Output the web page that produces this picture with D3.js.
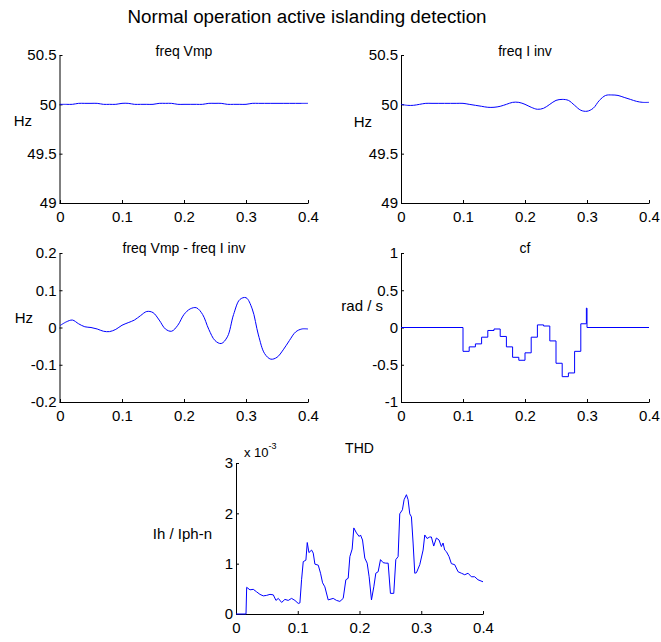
<!DOCTYPE html>
<html>
<head>
<meta charset="utf-8">
<script src="https://cdn.jsdelivr.net/npm/d3@7"></script>
<style>
	body { margin: 0; background: #fff; }
	svg text { font-family: "Liberation Sans", Arial, sans-serif; fill: #000; }
</style>
</head>
<body>
<div id="chart"></div>
<script>
'use strict';

// sample times (s) shared by the three frequency traces
var sampleTimes = [0, 0.01, 0.02, 0.03, 0.04, 0.05, 0.06, 0.07, 0.08, 0.09,
	0.10, 0.11, 0.12, 0.13, 0.14, 0.15, 0.16, 0.17, 0.18, 0.19,
	0.20, 0.21, 0.22, 0.23, 0.24, 0.25, 0.26, 0.27, 0.28, 0.29,
	0.30, 0.31, 0.32, 0.33, 0.34, 0.35, 0.36, 0.37, 0.38, 0.39, 0.40];

var freqVmp = [50.00, 50.00, 50.00, 50.01, 50.01, 50.01, 50.01, 50.00, 50.00, 50.00,
	50.01, 50.01, 50.00, 50.00, 50.00, 50.00, 50.01, 50.01, 50.01, 50.00,
	50.00, 50.00, 50.00, 50.00, 50.01, 50.01, 50.01, 50.00, 50.00, 50.00,
	50.00, 50.01, 50.01, 50.01, 50.01, 50.01, 50.01, 50.01, 50.01, 50.01, 50.01];

var freqIinv = [50.00, 49.99, 49.99, 50.00, 50.01, 50.01, 50.01, 50.01, 50.01, 50.01,
	50.01, 50.00, 49.99, 49.98, 49.97, 49.97, 49.98, 50.00, 50.02, 50.02,
	50.00, 49.97, 49.95, 49.96, 50.00, 50.04, 50.05, 50.04, 49.99, 49.94,
	49.93, 49.96, 50.04, 50.09, 50.095, 50.09, 50.07, 50.05, 50.03, 50.02, 50.02];

var freqDiff = [0.005, 0.015, 0.02, 0.01, 0.002, 0.0, -0.004, -0.01, -0.011, -0.005,
	0.006, 0.013, 0.02, 0.032, 0.043, 0.04, 0.02, -0.004, -0.01, 0.006,
	0.035, 0.05, 0.053, 0.035, -0.005, -0.035, -0.043, -0.025, 0.035, 0.075,
	0.08, 0.05, -0.02, -0.07, -0.085, -0.08, -0.06, -0.035, -0.012, -0.004, -0.004];

// cf is piecewise constant (value holds until the next time)
var cfTimes = [0, 0.10, 0.11, 0.12, 0.13, 0.14, 0.15, 0.16, 0.17, 0.18, 0.19,
	0.20, 0.21, 0.22, 0.23, 0.24, 0.25, 0.26, 0.27, 0.28, 0.29, 0.299, 0.30, 0.40];
var cfValues = [0, -0.32, -0.26, -0.22, -0.13, -0.04, -0.02, -0.12, -0.26, -0.40, -0.44,
	-0.34, -0.13, 0.035, 0.02, -0.18, -0.48, -0.66, -0.61, -0.32, 0.05, 0.26, 0, 0];

// THD in units of 1e-3
var thdTimes = [0, 0.0162, 0.0173, 0.0226, 0.028, 0.0334, 0.0388, 0.0442, 0.0496, 0.055,
	0.0604, 0.0647, 0.0685, 0.0739, 0.0792, 0.0846, 0.09, 0.0954, 0.1008, 0.1035,
	0.1062, 0.1089, 0.1132, 0.1154, 0.1181, 0.1224, 0.1251, 0.1278, 0.1332, 0.1369,
	0.1402, 0.1439, 0.1493, 0.1574, 0.1628, 0.1682, 0.1736, 0.1779, 0.1817, 0.1844,
	0.1881, 0.1908, 0.1951, 0.1995, 0.2016, 0.2049, 0.2086, 0.2124, 0.2156, 0.2194,
	0.2232, 0.2264, 0.2302, 0.234, 0.2383, 0.2426, 0.2464, 0.2501, 0.2555, 0.2588,
	0.2625, 0.2652, 0.2695, 0.2722, 0.276, 0.2787, 0.2814, 0.2841, 0.2868, 0.2895,
	0.2922, 0.2976, 0.303, 0.3057, 0.3094, 0.3137, 0.3164, 0.3202, 0.3245, 0.3288,
	0.3326, 0.3353, 0.338, 0.3407, 0.345, 0.3488, 0.3542, 0.3596, 0.365, 0.3704,
	0.3758, 0.3811, 0.3865, 0.3919, 0.4];
var thdValues = [0, 0, 0.53, 0.48, 0.49, 0.44, 0.39, 0.36, 0.37, 0.39,
	0.38, 0.27, 0.31, 0.23, 0.29, 0.27, 0.31, 0.27, 0.21, 0.22,
	0.68, 1.04, 1.07, 1.42, 1.22, 1.27, 1.21, 0.99, 0.97, 0.81,
	0.62, 0.54, 0.28, 0.31, 0.27, 0.25, 0.31, 0.68, 0.71, 1.14,
	1.29, 1.71, 1.61, 1.54, 1.57, 1.47, 1.11, 1.01, 0.74, 0.28,
	0.54, 0.81, 0.84, 1.08, 1.02, 1.01, 1.01, 0.41, 0.41, 1.08,
	1.14, 1.99, 2.07, 2.27, 2.37, 2.27, 1.99, 1.93, 1.41, 0.81,
	0.82, 0.98, 1.27, 1.57, 1.5, 1.53, 1.53, 1.35, 1.51, 1.47,
	1.34, 1.41, 1.27, 1.24, 1.14, 1.0, 0.98, 0.84, 0.81, 0.78,
	0.81, 0.74, 0.74, 0.68, 0.64];

var xTicks = [0, 0.1, 0.2, 0.3, 0.4];
var freqTicks = [49, 49.5, 50, 50.5];
var diffTicks = [-0.2, -0.1, 0, 0.1, 0.2];
var cfTicks = [-1, -0.5, 0, 0.5, 1];
var thdTicks = [0, 1, 2, 3];

var mainTitle = 'Normal operation active islanding detection';

var W = 661, H = 642;
var LINE = '#0000ff';

var panels = [
	{ title: 'freq Vmp', ylabel: 'Hz', t: sampleTimes, v: freqVmp, dom: [49, 50.5], ticks: freqTicks,
	  left: 60, right: 308, top: 55, bottom: 203, labX: 32, labY: 121, soft: true, titleDy: 1 },
	{ title: 'freq I inv', ylabel: 'Hz', t: sampleTimes, v: freqIinv, dom: [49, 50.5], ticks: freqTicks,
	  left: 401, right: 649, top: 55, bottom: 203, labX: 372, labY: 122, soft: false, titleDy: 1 },
	{ title: 'freq Vmp - freq I inv', ylabel: 'Hz', t: sampleTimes, v: freqDiff, dom: [-0.2, 0.2], ticks: diffTicks,
	  left: 60, right: 308, top: 253, bottom: 402, labX: 33, labY: 318, soft: true, titleDy: 0 },
	{ title: 'cf', ylabel: 'rad / s', t: cfTimes, v: cfValues, dom: [-1, 1], ticks: cfTicks, step: true,
	  left: 401, right: 649, top: 253, bottom: 402, labX: 383, labY: 306, soft: false, titleDy: 0 },
	{ title: 'THD', ylabel: 'Ih / Iph-n', t: thdTimes, v: thdValues, dom: [0, 3], ticks: thdTicks, exponent: true,
	  left: 236, right: 483, top: 463, bottom: 614, labX: 212, labY: 534, soft: false, titleDy: -10 }
];

var svg = d3.select('#chart').append('svg')
	.attr('width', W)
	.attr('height', H);

svg.append('text')
	.attr('x', 307)
	.attr('y', 23)
	.attr('text-anchor', 'middle')
	.style('font-size', '18.8px')
	.text(mainTitle);

function fmt(d){ return String(+d.toFixed(2)); }

panels.forEach(function(p){

	var x = d3.scaleLinear().domain([0, 0.4]).range([p.left, p.right]);
	var y = d3.scaleLinear().domain(p.dom).range([p.bottom, p.top]);

	var g = svg.append('g');

	var xAxis = g.append('g')
		.attr('transform', 'translate(0,' + p.bottom + ')')
		.call(d3.axisBottom(x).tickValues(xTicks).tickFormat(fmt)
			.tickSizeInner(-3).tickSizeOuter(0).tickPadding(8));

	var yAxis = g.append('g')
		.attr('transform', 'translate(' + (p.left - (p.soft ? 0.5 : 0)) + ',0)')
		.call(d3.axisLeft(y).tickValues(p.ticks).tickFormat(fmt)
			.tickSizeInner(-3).tickSizeOuter(0).tickPadding(3));

	[xAxis, yAxis].forEach(function(a){
		a.select('.domain').attr('stroke', '#000');
		a.selectAll('.tick line').attr('stroke', '#000');
		a.selectAll('.tick text')
			.style('font-size', '15px')
			.style('font-family', '"Liberation Sans", Arial, sans-serif')
			.attr('fill', '#000');
	});

	var line = d3.line()
		.x(function(d){ return x(d[0]); })
		.y(function(d){ return y(d[1]); })
		.curve(p.step ? d3.curveStepAfter : (p.exponent ? d3.curveLinear : d3.curveCatmullRom));

	g.append('path')
		.datum(p.t.map(function(t, i){ return [t, p.v[i]]; }))
		.attr('fill', 'none')
		.attr('stroke', LINE)
		.attr('stroke-width', 1)
		.attr('d', line);

	g.append('text')
		.attr('x', (p.left + p.right) / 2)
		.attr('y', p.top + p.titleDy)
		.attr('text-anchor', 'middle')
		.style('font-size', '14px')
		.text(p.title);

	g.append('text')
		.attr('x', p.labX)
		.attr('y', p.labY)
		.attr('dy', '0.35em')
		.attr('text-anchor', 'end')
		.style('font-size', '15px')
		.text(p.ylabel);

	if (p.exponent) {
		var ex = g.append('text')
			.attr('x', p.left + 8)
			.attr('y', p.top - 6)
			.style('font-size', '13px');
		ex.append('tspan').text('x 10');
		ex.append('tspan')
			.attr('dy', -8)
			.style('font-size', '9px')
			.text('-3');
	}
});
</script>
</body>
</html>
